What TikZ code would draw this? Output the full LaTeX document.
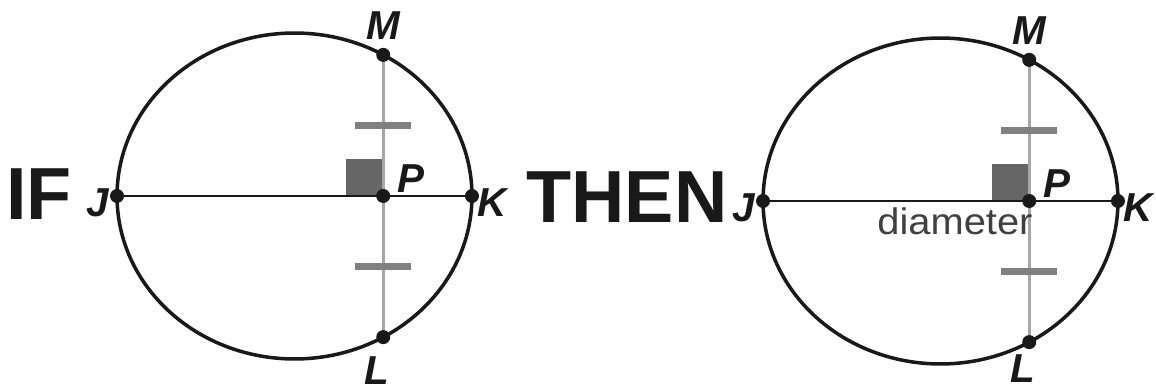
\documentclass[tikz,border=0pt]{standalone}
\usepackage{fontspec}
\setmainfont{Liberation Sans}
\usetikzlibrary{calc}

\begin{document}
\begin{tikzpicture}[x=0.02cm, y=-0.02cm,
    rim/.style={line width=2pt, draw=black!90},
    ptdot/.style={circle, fill=black!90, inner sep=0pt, minimum size=0.28cm},
    ptlbl/.style={inner sep=0pt, text=black!90, font=\fontsize{23}{23}\selectfont\bfseries\itshape},
    hashmark/.style={line width=3.8pt, draw=black!50},
    bigword/.style={inner sep=0pt, text=black!90, font=\fontsize{42}{42}\selectfont\bfseries}]
  \useasboundingbox (0,0) rectangle (1156,391);
  \node[bigword] (wif) at (39,194) {IF};
  \node[bigword] (wthen) at (627,197) {THEN};
  % same circle twice
  \foreach \nm/\cx/\cy/\ly in {a/294.5/196/33, b/940.5/201/26} {
    \coordinate (O\nm) at (\cx,\cy);
    \coordinate (J\nm) at ($(O\nm)+(180:3.55cm and 3.26cm)$);
    \coordinate (K\nm) at ($(O\nm)+(0:3.55cm and 3.26cm)$);
    \coordinate (M\nm) at ($(O\nm)+(60:3.55cm and 3.26cm)$);
    \coordinate (L\nm) at ($(O\nm)+(-60:3.55cm and 3.26cm)$);
    \coordinate (P\nm) at (M\nm |- O\nm);
    \fill[black!60] ($(P\nm)+(-37,-37)$) rectangle (P\nm);
    \draw[rim] (O\nm) ellipse [x radius=3.55cm, y radius=3.26cm];
    \draw[line width=1.5pt, black!35] (M\nm) -- (L\nm);
    \draw[line width=1.7pt, black!90] (J\nm) -- (K\nm);
    \draw[hashmark] ($(M\nm)!0.5!(P\nm)+(-28,0)$) -- ++(56,0);
    \draw[hashmark] ($(P\nm)!0.5!(L\nm)+(-28,0)$) -- ++(56,0);
    \foreach \p in {J,K,M,L,P} \node[ptdot] (d\p\nm) at (\p\nm) {};
    \node[ptlbl] (lM\nm) at ($(M\nm)+(0,-29)$) {M};
    \node[ptlbl] (lL\nm) at ($(L\nm)+(-6,\ly)$) {L};
    \node[ptlbl] (lJ\nm) at ($(J\nm)+(-19,7)$) {J};
    \node[ptlbl] (lK\nm) at ($(K\nm)+(20,7)$) {K};
    \node[ptlbl] (lP\nm) at ($(P\nm)+(28,-17)$) {P};
  }
  \node[inner sep=0pt, text=black!75, font=\fontsize{21}{21}\selectfont] (diam) at (955,221) {\scalebox{1.08}[1]{diameter}};
\end{tikzpicture}
\end{document}
